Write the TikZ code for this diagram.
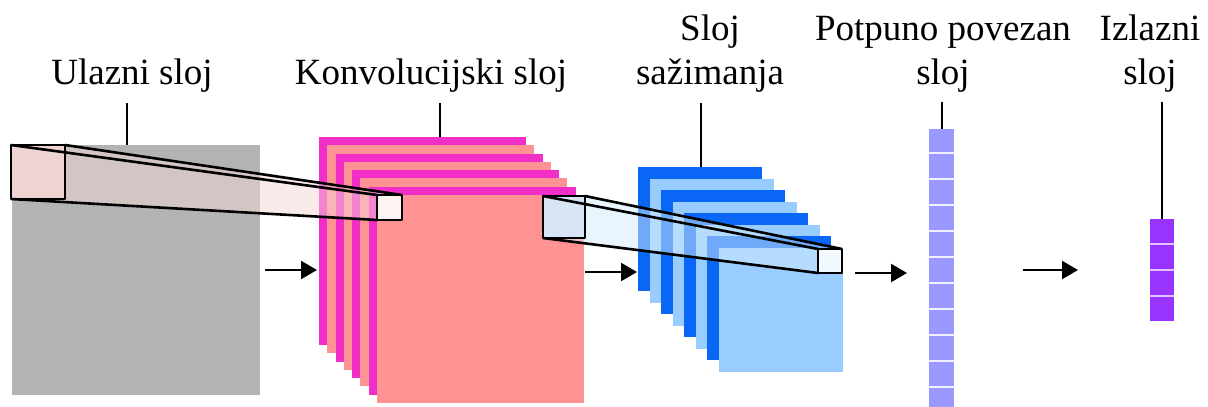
\documentclass[tikz,border=0pt]{standalone}
\usepackage{fontspec}
\setmainfont{Liberation Serif}
\usetikzlibrary{calc,arrows.meta}
\definecolor{inputgray}{RGB}{179,179,179}
\definecolor{convdark}{RGB}{242,46,200}
\definecolor{convlight}{RGB}{255,147,147}
\definecolor{pooldark}{RGB}{10,102,245}
\definecolor{poollight}{RGB}{153,204,255}
\definecolor{fcblue}{RGB}{153,153,255}
\definecolor{outpurple}{RGB}{153,51,255}
\definecolor{filterpink}{RGB}{245,215,215}
\definecolor{filterblue}{RGB}{212,236,252}
\newcommand{\labelsize}{\fontsize{37}{44}\selectfont}
\newcommand{\makefilter}[9]{
	\coordinate (#1a) at (#3,#4);
	\coordinate (#1b) at (#3+#5,#4);
	\coordinate (#1c) at (#3+#5,#4+#5);
	\coordinate (#1d) at (#3,#4+#5);
	\coordinate (#2a) at (#6,#7);
	\coordinate (#2b) at (#6+#8,#7);
	\coordinate (#2c) at (#6+#8,#7+#8);
	\coordinate (#2d) at (#6,#7+#8);
	\fill[#9, opacity=.5] (#1a) -- (#1b) -- (#2b) -- (#2c) -- (#2d) -- (#1d) -- cycle;
	\fill[#9, opacity=.85] (#1a) rectangle (#1c);
	\fill[white, opacity=.85] (#2a) rectangle (#2c);
	\draw[filter] (#1a) rectangle (#1c) (#2a) rectangle (#2c);
	\draw[filter] (#1a) -- (#2a) (#1b) -- (#2b) (#1d) -- (#2d);
}

\begin{document}
\begin{tikzpicture}[x=1pt,y=-1pt,
	layername/.style={font=\labelsize, align=center, inner sep=0pt, anchor=base},
	pointer/.style={line width=2.4pt},
	flow/.style={line width=2.4pt, -{Triangle[length=16pt,width=18pt]}},
	filter/.style={line width=2.6pt, line join=round}]
	\useasboundingbox (0,0) rectangle (1208,407);

	% input layer
	\fill[inputgray] (12,145) rectangle (260,395);
	\coordinate (inTop) at (127,145);

	% convolution sheets
	\foreach \i in {0,...,7} {
		\ifodd\i \def\sheetcol{convlight}\else\def\sheetcol{convdark}\fi
		\fill[\sheetcol] (319+8.25*\i,137+8.25*\i) rectangle ++(207,208);
	}
	\coordinate (convTop) at (440,137);

	% pooling sheets
	\foreach \i in {0,...,7} {
		\ifodd\i \def\sheetcol{poollight}\else\def\sheetcol{pooldark}\fi
		\fill[\sheetcol] (638+11.5*\i,167+11.5*\i) rectangle ++(124,124);
	}
	\coordinate (poolTop) at (701,167);

	% fully connected and output
	\fill[fcblue] (929,129) rectangle (954,407);
	\foreach \k in {0,...,9}
		\draw[white!85!fcblue, line width=1.5pt] (929,153+26*\k) -- ++(25,0);
	\coordinate (fcTop) at (942,129);
	\fill[outpurple] (1150,219) rectangle (1174,321);
	\foreach \k in {0,1,2}
		\draw[white!70!outpurple, line width=1.5pt] (1150,244+26*\k) -- ++(24,0);
	\coordinate (outTop) at (1162,219);

	% receptive fields
	\makefilter{kin}{kout}{11}{145}{54}{377}{195}{25}{filterpink}
	\makefilter{pin}{pout}{543}{196}{42}{818}{249}{24}{filterblue}

	% labels
	\node[layername] (inlbl) at (132,84) {Ulazni sloj};
	\node[layername] (convlbl) at (431,84) {Konvolucijski sloj};
	\node[layername] (poollbl) at (710,84) {Sloj\\sažimanja};
	\node[layername] (fclbl) at (943,84) {Potpuno povezan\\sloj};
	\node[layername] (outlbl) at (1150,84) {Izlazni\\sloj};

	\draw[pointer] ([yshift=-11pt]inlbl.south -| inTop) -- (inTop);
	\draw[pointer] ([yshift=-11pt]convlbl.south -| convTop) -- (convTop);
	\draw[pointer] ([yshift=-11pt]poollbl.south -| poolTop) -- (poolTop);
	\draw[pointer] ([yshift=-10pt]fclbl.south -| fcTop) -- (fcTop);
	\draw[pointer] ([yshift=-10pt]outlbl.south -| outTop) -- (outTop);

	% flow arrows
	\coordinate (a1s) at (265,270);
	\coordinate (a1e) at (317,270);
	\coordinate (a2s) at (585,272);
	\coordinate (a2e) at (637,272);
	\coordinate (a3s) at (855,273);
	\coordinate (a3e) at (907,273);
	\coordinate (a4s) at (1023,270);
	\coordinate (a4e) at (1078,270);
	\draw[flow] (a1s) -- (a1e);
	\draw[flow] (a2s) -- (a2e);
	\draw[flow] (a3s) -- (a3e);
	\draw[flow] (a4s) -- (a4e);
\end{tikzpicture}
\end{document}
